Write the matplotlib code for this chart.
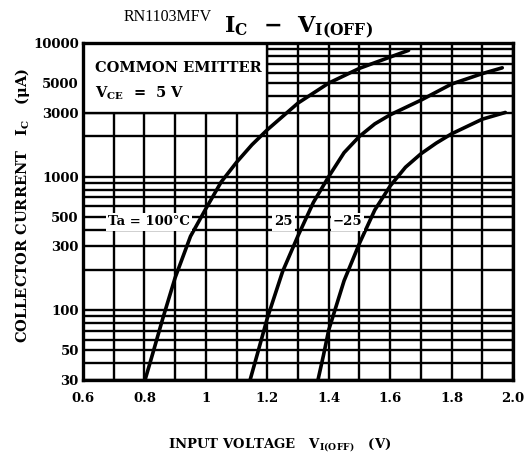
import matplotlib
matplotlib.use("Agg")
import matplotlib.pyplot as plt
from matplotlib.patches import Rectangle
from matplotlib.ticker import FixedLocator, MultipleLocator, NullFormatter

# input voltage (V) vs collector current (uA)
v_100 = [0.802, 0.83, 0.86, 0.90, 0.95, 1.00, 1.05, 1.10, 1.15, 1.20, 1.30, 1.40, 1.50, 1.60, 1.66]
i_100 = [30, 50, 87, 175, 357, 575, 912, 1280, 1730, 2240, 3550, 5010, 6460, 7850, 8810]
v_25 = [1.144, 1.171, 1.20, 1.25, 1.30, 1.35, 1.40, 1.45, 1.50, 1.55, 1.60, 1.70, 1.80, 1.90, 1.965]
i_25 = [30, 50, 87, 195, 360, 640, 1000, 1510, 2000, 2480, 2900, 3730, 4930, 5900, 6520]
v_m25 = [1.365, 1.383, 1.40, 1.45, 1.50, 1.55, 1.60, 1.65, 1.70, 1.75, 1.80, 1.90, 1.975]
i_m25 = [30, 46, 71, 166, 316, 562, 850, 1175, 1480, 1780, 2090, 2690, 3020]

x_ticks = [0.6, 0.8, 1.0, 1.2, 1.4, 1.6, 1.8, 2.0]
x_labels = ["0.6", "0.8", "1", "1.2", "1.4", "1.6", "1.8", "2.0"]
y_ticks = [30, 50, 100, 300, 500, 1000, 3000, 5000, 10000]
y_labels = ["30", "50", "100", "300", "500", "1000", "3000", "5000", "10000"]

plt.rcParams["font.family"] = ["DejaVu Serif"]
plt.rcParams["font.weight"] = "bold"
plt.rcParams["axes.labelweight"] = "bold"
plt.rcParams["mathtext.fontset"] = "dejavuserif"
plt.rcParams["mathtext.default"] = "bf"

fig = plt.figure(figsize=(5.24, 4.62), dpi=100)
ax = fig.add_axes([83 / 524, 1 - 380 / 462, 430 / 524, 337 / 462])

ax.set_yscale("log")
ax.set_xlim(0.6, 2.0)
ax.set_ylim(30, 10000)

ax.xaxis.set_major_locator(FixedLocator(x_ticks))
ax.xaxis.set_minor_locator(MultipleLocator(0.1))
ax.set_xticklabels(x_labels)
ax.yaxis.set_major_locator(FixedLocator(y_ticks))
ax.yaxis.set_minor_locator(FixedLocator([m * 10**d for d in range(1, 4) for m in range(2, 10)]))
ax.set_yticklabels(y_labels)
ax.yaxis.set_minor_formatter(NullFormatter())
ax.tick_params(which="both", length=0, labelsize=9.5)
ax.tick_params(axis="x", pad=9)
ax.tick_params(axis="y", pad=3)

ax.set_axisbelow(True)
ax.grid(which="both", color="black", linewidth=1.7)
for s in ax.spines.values():
    s.set_linewidth(2.4)

# legend box covering the upper-left corner of the grid
ax.add_patch(Rectangle((0.6, 3000), 0.6, 7000, facecolor="white",
                       edgecolor="black", linewidth=1.7, zorder=1))
ax.text(0.028, 0.925, "COMMON EMITTER", transform=ax.transAxes, fontsize=10.5,
        va="center", ha="left", zorder=4)
ax.text(0.028, 0.852, r"$V_{CE}$  =  5 V", transform=ax.transAxes, fontsize=10.5,
        va="center", ha="left", zorder=4)

for v, i in [(v_100, i_100), (v_25, i_25), (v_m25, i_m25)]:
    ax.plot(v, i, color="black", linewidth=2.6, zorder=3,
            solid_capstyle="round", solid_joinstyle="round")

box = dict(facecolor="white", edgecolor="none", pad=1.5)
ax.text(0.058, 0.469, "Ta = 100°C", transform=ax.transAxes, fontsize=9.5,
        va="center", ha="left", bbox=box, zorder=4)
ax.text(0.467, 0.469, "25", transform=ax.transAxes, fontsize=9.5,
        va="center", ha="center", bbox=box, zorder=4)
ax.text(0.615, 0.469, "−25", transform=ax.transAxes, fontsize=9.5,
        va="center", ha="center", bbox=box, zorder=4)

ax.set_xlabel(r"INPUT VOLTAGE   $V_{I(OFF)}$   (V)", fontsize=9.5, labelpad=22)
ax.xaxis.label.set_x((280 - 83) / 430)
ax.set_ylabel(r"COLLECTOR CURRENT   $I_C$   ($\mu$A)", fontsize=10.5, labelpad=1)
ax.yaxis.label.set_y((380 - 205) / 337)

fig.text(168 / 524, 1 - 17 / 462, "RN1103MFV", family="Liberation Serif",
         weight="normal", fontsize=11.5, ha="center", va="center")
fig.text(298 / 524, 1 - 28 / 462, r"$I_C$  −  $V_{I(OFF)}$", fontsize=16,
         ha="center", va="center")

fig.savefig("out.png", dpi=100)
